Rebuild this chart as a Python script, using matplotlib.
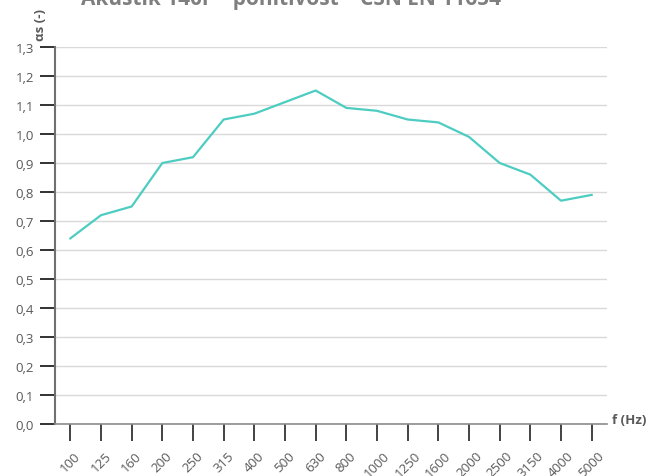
import matplotlib; matplotlib.use('Agg')
import matplotlib.pyplot as plt
import numpy as np

# ── data ─────────────────────────────────────────────────────
FREQS  = ['100', '125', '160', '200', '250', '315', '400', '500', '630',
          '800', '1000', '1250', '1600', '2000', '2500', '3150', '4000', '5000']
ALPHA  = [0.64, 0.72, 0.75, 0.90, 0.92, 1.05, 1.07, 1.11, 1.15,
          1.09, 1.08, 1.05, 1.04, 0.99, 0.90, 0.86, 0.77, 0.79]
YTICKS = [round(0.1 * i, 1) for i in range(14)]

TITLE  = 'Akustik 140r – pohltivost – ČSN EN 11654'
GRAY   = '#595959'
TEAL   = '#4dcdc2'

plt.rcParams['font.family'] = ['Open Sans', 'DejaVu Sans']

W, H = 651, 477
fig = plt.figure(figsize=(W / 100, H / 100), dpi=100)
ax = fig.add_axes([55 / W, 1 - 425 / H, (607 - 55) / W, (425 - 48) / H])

x = np.arange(len(FREQS))
ax.plot(x, ALPHA, color=TEAL, lw=1.6, zorder=3)

ax.set_xlim(-0.5, len(FREQS) - 0.5)
ax.set_ylim(0, 1.3)
ax.set_yticks(YTICKS)
ax.set_yticklabels([f'{v:.1f}'.replace('.', ',') for v in YTICKS],
                   fontsize=9.5, color=GRAY)
ax.set_xticks(x)
ax.set_xticklabels(FREQS, rotation=45, fontsize=9.5, color=GRAY,
                   ha='center', va='top')

ax.grid(axis='y', color='#d9d9d9', lw=1)
ax.set_axisbelow(True)
for s in ['top', 'right']:
    ax.spines[s].set_visible(False)
ax.spines['left'].set_color('#707070')
ax.spines['left'].set_linewidth(1.5)
ax.spines['bottom'].set_color('#8c8c8c')
ax.spines['bottom'].set_linewidth(1.2)
ax.tick_params(axis='y', length=11, width=1.3, color='#222222', pad=4)
ax.tick_params(axis='x', length=12, width=1.2, color='#222222', pad=6)

# title cut off at top edge, as in the source image
fig.text(291 / W, 1 - 5 / H, TITLE, ha='center', va='baseline',
         fontsize=15, fontweight='bold', color='#7f7f7f')
fig.text(41 / W, 1 - 25 / H, 'αs (-)', rotation=90, ha='center', va='center',
         fontsize=9.5, fontweight='bold', color=GRAY)
fig.text(612 / W, 1 - 421 / H, 'f (Hz)', ha='left', va='center',
         fontsize=9.5, fontweight='bold', color=GRAY)

fig.savefig('out.png', dpi=100)
